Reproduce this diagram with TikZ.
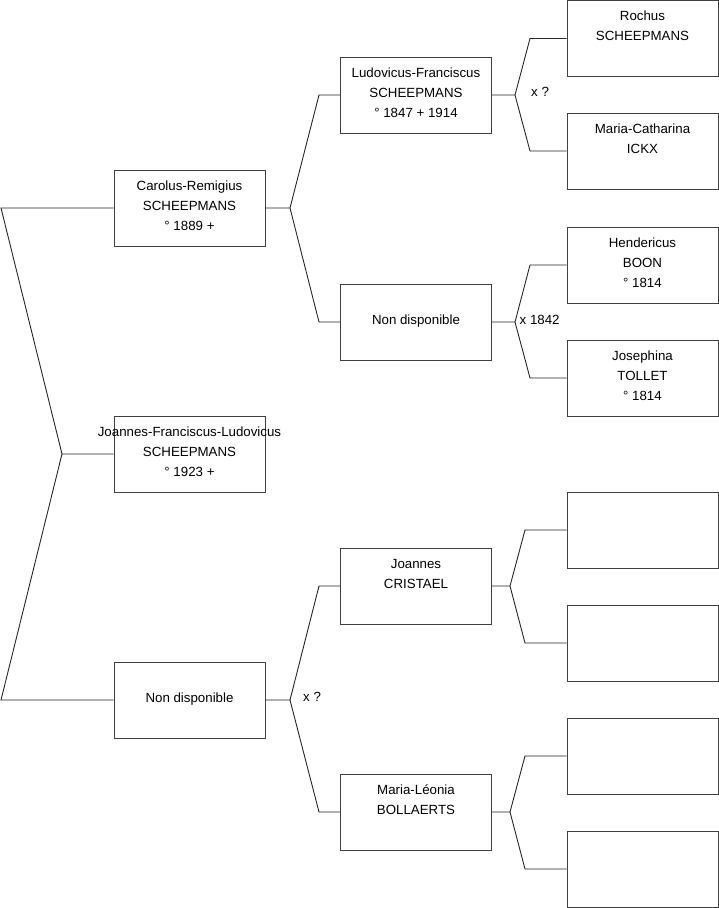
\documentclass[tikz,border=0pt]{standalone}
\usepackage{fontspec}
\setmainfont{Liberation Sans}
\newcommand\lastgap{\rule[-10pt]{0pt}{10pt}}
\begin{document}
\begin{tikzpicture}[x=1pt,y=-1pt,
  person/.style={draw=black!75, line width=0.9pt, fill=white, minimum width=151pt, minimum height=76pt,
    inner sep=0pt, align=center, font=\fontsize{13.3}{20}\selectfont},
  link/.style={draw=black!85, line width=0.9pt},
  lab/.style={anchor=west, inner sep=0pt, font=\fontsize{13.3}{15}\selectfont}]
\useasboundingbox (0,0) rectangle (719,908);
% generation 0/1
\node[person] (R) at (189.5,454) {\makebox[0pt]{\strut Joannes-Franciscus-Ludovicus}\\\strut SCHEEPMANS\\\strut ° 1923 +\lastgap};
\node[person] (A) at (189.5,208) {\strut Carolus-Remigius\\\strut SCHEEPMANS\\\strut ° 1889 +\lastgap};
\node[person] (B) at (189.5,700) {\strut Non disponible\lastgap};
% generation 2
\node[person] (C) at (416,95) {\strut Ludovicus-Franciscus\\\strut SCHEEPMANS\\\strut ° 1847 + 1914\lastgap};
\node[person] (D) at (416,322) {\strut Non disponible\lastgap};
\node[person] (E) at (416,586) {\strut Joannes\\\strut CRISTAEL\\\strut\lastgap};
\node[person] (F) at (416,812) {\strut Maria-Léonia\\\strut BOLLAERTS\\\strut\lastgap};
% generation 3
\node[person] (G) at (642.5,38.5) {\strut Rochus\\\strut SCHEEPMANS\\\strut\lastgap};
\node[person] (H) at (642.5,151) {\strut Maria-Catharina\\\strut ICKX\\\strut\lastgap};
\node[person] (I) at (642.5,265) {\strut Hendericus\\\strut BOON\\\strut ° 1814\lastgap};
\node[person] (J) at (642.5,378) {\strut Josephina\\\strut TOLLET\\\strut ° 1814\lastgap};
\node[person] (K) at (642.5,530) {};
\node[person] (L) at (642.5,643) {};
\node[person] (M) at (642.5,756) {};
\node[person] (N) at (642.5,869) {};
% fork coordinates
\coordinate (r0) at (62,454);
\coordinate (r1) at (1,208);
\coordinate (r2) at (1,700);
\coordinate (a0) at (290,208);
\coordinate (a1) at (319,95);
\coordinate (a2) at (319,322);
\coordinate (b0) at (290,700);
\coordinate (b1) at (319,586);
\coordinate (b2) at (319,812);
\coordinate (c0) at (515,95);
\coordinate (c1) at (530,38.5);
\coordinate (c2) at (530,151);
\coordinate (d0) at (515,322);
\coordinate (d1) at (530,265);
\coordinate (d2) at (530,378);
\coordinate (e0) at (510,586);
\coordinate (e1) at (525,530);
\coordinate (e2) at (525,643);
\coordinate (f0) at (510,812);
\coordinate (f1) at (525,756);
\coordinate (f2) at (525,869);
% connectors
\draw[link] (R.west) -- (r0) -- (r1) -- (A.west);
\draw[link] (r0) -- (r2) -- (B.west);
\draw[link] (A.east) -- (a0) -- (a1) -- (C.west);
\draw[link] (a0) -- (a2) -- (D.west);
\draw[link] (B.east) -- (b0) -- (b1) -- (E.west);
\draw[link] (b0) -- (b2) -- (F.west);
\draw[link] (C.east) -- (c0) -- (c1) -- (G.west);
\draw[link] (c0) -- (c2) -- (H.west);
\draw[link] (D.east) -- (d0) -- (d1) -- (I.west);
\draw[link] (d0) -- (d2) -- (J.west);
\draw[link] (E.east) -- (e0) -- (e1) -- (K.west);
\draw[link] (e0) -- (e2) -- (L.west);
\draw[link] (F.east) -- (f0) -- (f1) -- (M.west);
\draw[link] (f0) -- (f2) -- (N.west);
% marriage labels
\node[lab] (xc) at (531,92) {x ?};
\node[lab] (xd) at (519.5,320) {x 1842};
\node[lab] (xb) at (303,697) {x ?};
\end{tikzpicture}
\end{document}
